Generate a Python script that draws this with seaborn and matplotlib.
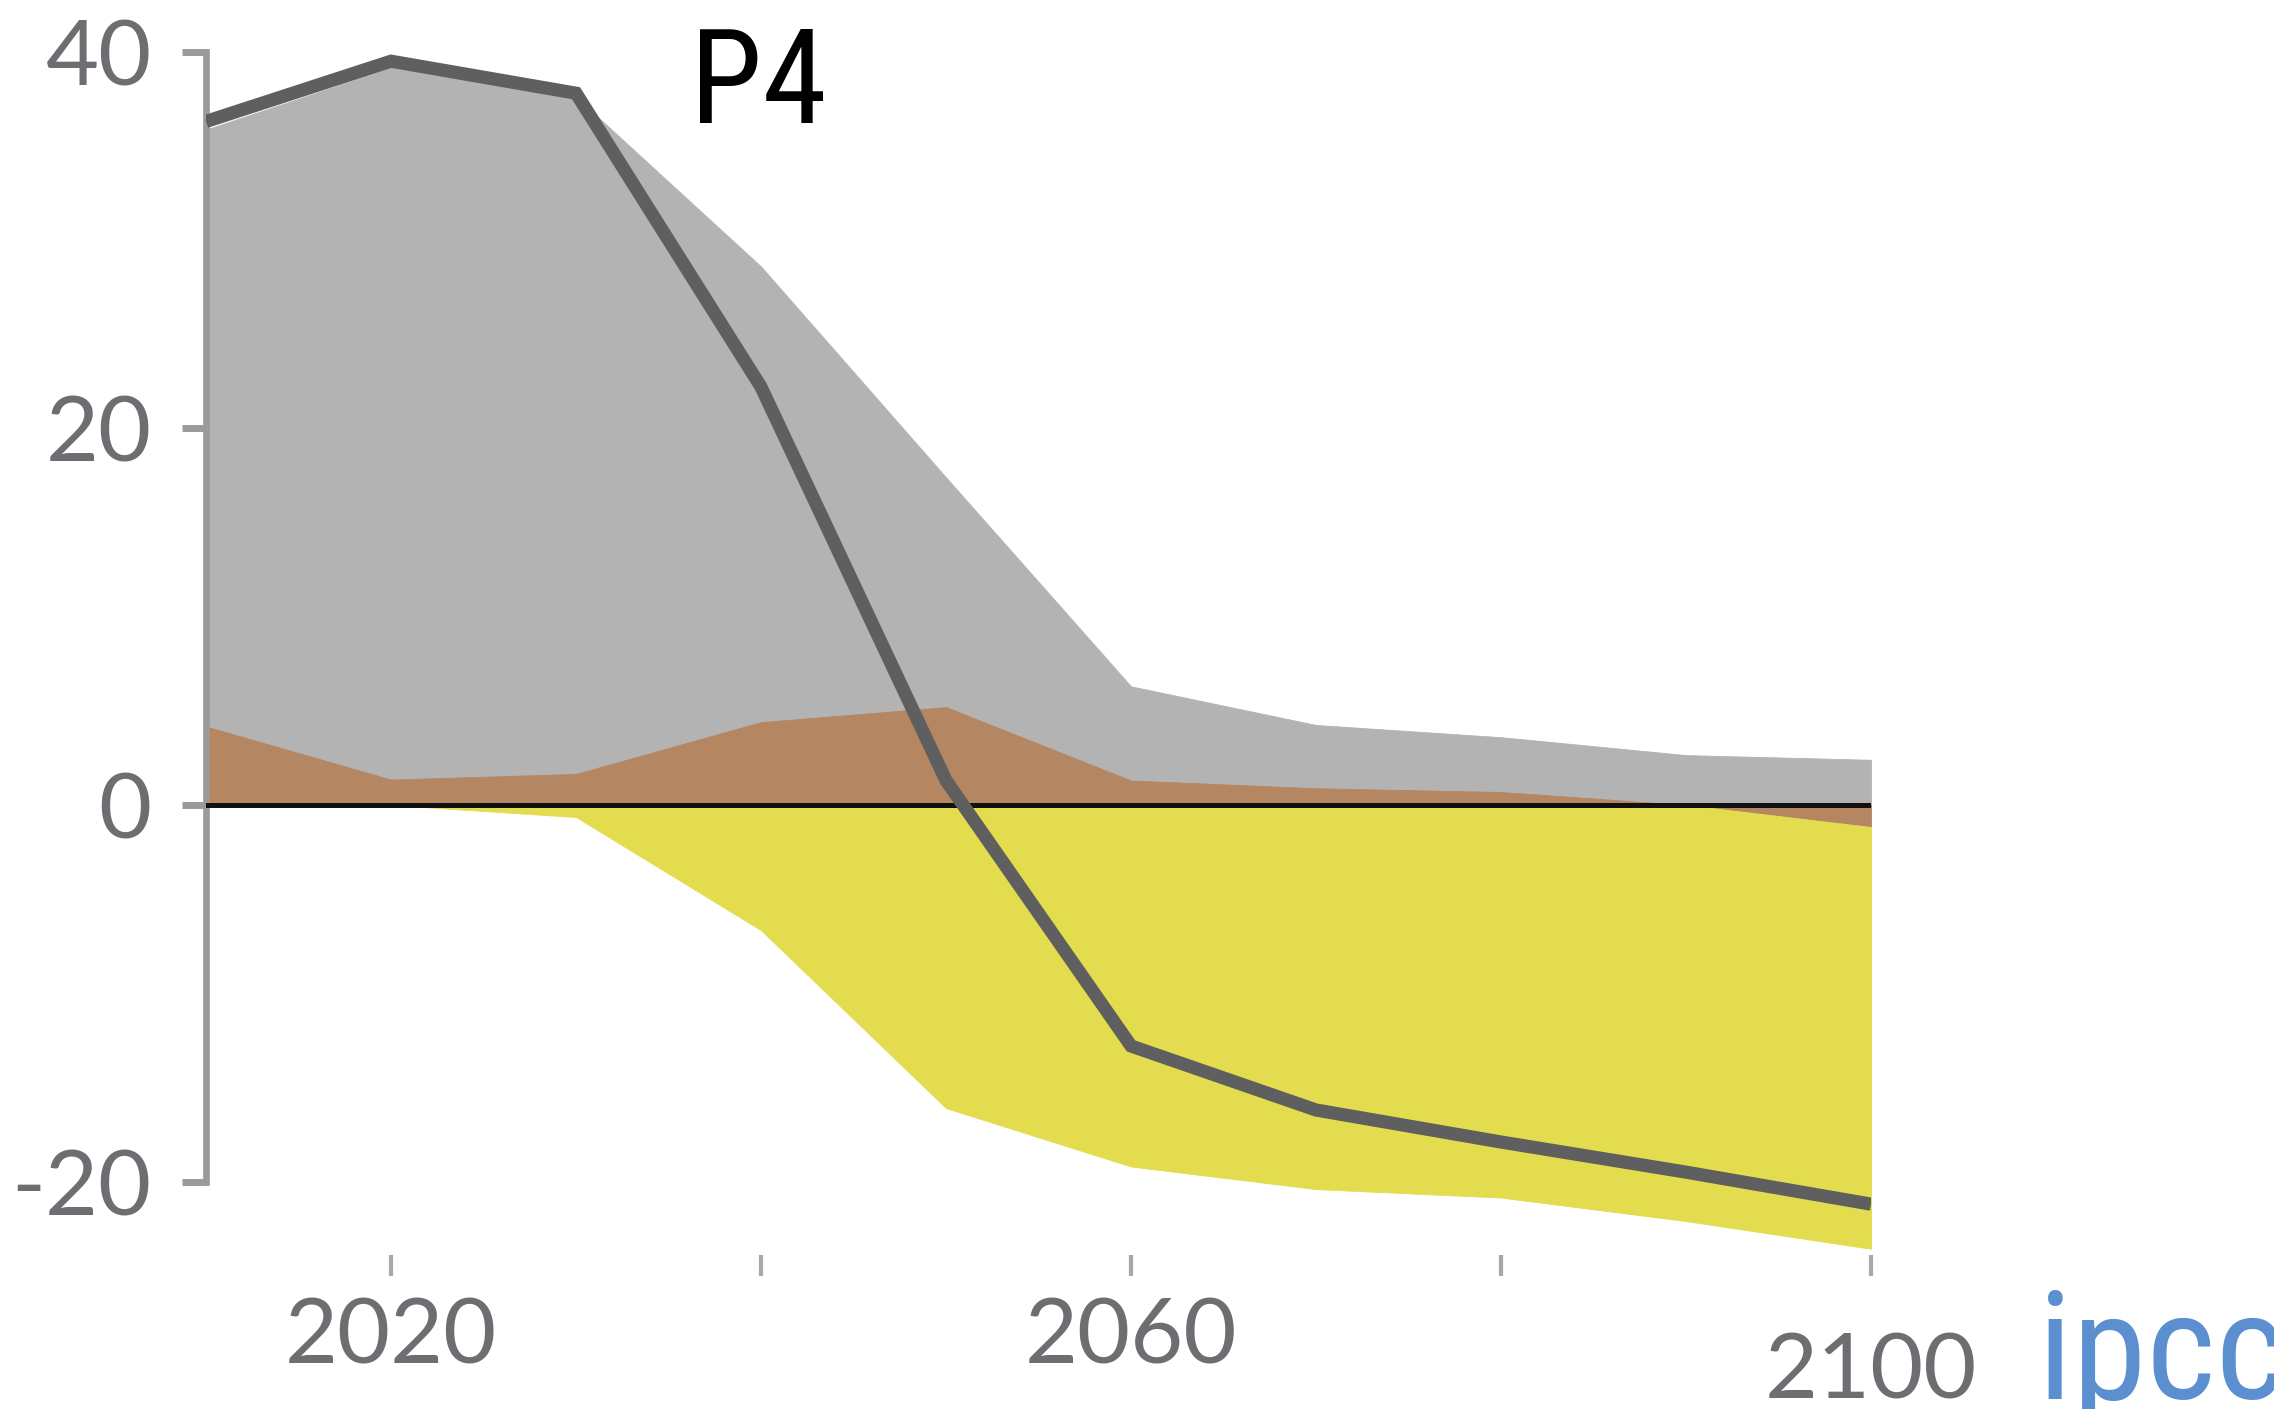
import matplotlib
matplotlib.use("Agg")
import matplotlib.pyplot as plt
from matplotlib import font_manager
import seaborn as sns
import pandas as pd

# CO2 emissions pathway P4 (GtCO2/yr), by source
years = [2010, 2020, 2030, 2040, 2050, 2060, 2070, 2080, 2090, 2100]
fossil_industry = [31.7, 37.8, 35.95, 24.2, 12.2, 5.0, 3.36, 2.91, 2.65, 2.4]
afolu = [4.17, 1.35, 1.65, 4.4, 5.2, 1.3, 0.89, 0.69, 0.0, -1.17]
beccs = [0.0, 0.0, -0.64, -6.65, -16.1, -19.2, -20.4, -20.85, -22.1, -22.4]
net_co2 = [36.3, 39.5, 37.8, 22.2, 1.3, -12.8, -16.2, -17.9, -19.5, -21.2]

y_ticks = [-20, 0, 20, 40]
y_tick_labels = ["-20", "0", "20", "40"]
x_ticks = [2020, 2040, 2060, 2080, 2100]
x_tick_labels = ["2020", "", "2060", "", "2100"]
panel_label = "P4"
logo_text = "ipcc"

GRAY_FILL = "#b3b3b3"
BROWN_FILL = "#b48662"
YELLOW_FILL = "#e3dc4e"
NET_LINE = "#5f5f5f"
AXIS_GRAY = "#9a9a9a"
LABEL_GRAY = "#6d6e71"
LOGO_BLUE = "#5b8fd0"

df = pd.DataFrame({
    "year": years,
    "fossil_industry": fossil_industry,
    "afolu": afolu,
    "beccs": beccs,
    "net": net_co2,
})

# stacked bounds: positive sources above zero, sinks below
afolu_pos = df["afolu"].clip(lower=0)
afolu_neg = df["afolu"].clip(upper=0)
ffi_top = afolu_pos + df["fossil_industry"]
beccs_bottom = afolu_neg + df["beccs"]

# pick a narrow face for the panel label and logo when one is installed
installed = {(f.name, f.stretch) for f in font_manager.fontManager.ttflist}
names = {n for n, _ in installed}
narrow_font = dict(family=["Lato", "DejaVu Sans"])
for cand in ["Liberation Sans Narrow", "Roboto Condensed", "Open Sans Condensed"]:
    if cand in names:
        narrow_font = dict(family=[cand, "DejaVu Sans"])
        break
else:
    if any(n == "DejaVu Sans" and s == "condensed" for n, s in installed):
        narrow_font = dict(family=["DejaVu Sans"], stretch="condensed")

sns.set_theme(style="white")
plt.rcParams["font.family"] = ["Lato", "DejaVu Sans"]

fig = plt.figure(figsize=(22.74, 14.09), dpi=100)
ax = fig.add_axes([0.0906, 0.1093, 0.7322, 0.8673])

fill_kw = dict(linewidth=0.6)
ax.fill_between(df["year"], afolu_pos, ffi_top, color=GRAY_FILL, edgecolor=GRAY_FILL, zorder=1, **fill_kw)
ax.fill_between(df["year"], 0, afolu_pos, color=BROWN_FILL, edgecolor=BROWN_FILL, zorder=2, **fill_kw)
ax.fill_between(df["year"], afolu_neg, 0, color=BROWN_FILL, edgecolor=BROWN_FILL, zorder=2, **fill_kw)
ax.fill_between(df["year"], beccs_bottom, afolu_neg, color=YELLOW_FILL, edgecolor=YELLOW_FILL, zorder=2, **fill_kw)

ax.axhline(0, color="#111111", linewidth=3.6, zorder=3)

sns.lineplot(data=df, x="year", y="net", ax=ax, color=NET_LINE, zorder=4)
net_line = ax.lines[-1]
net_line.set_linewidth(9.5)
net_line.set_solid_capstyle("butt")
net_line.set_solid_joinstyle("miter")

ax.set_xlim(2010, 2100)
ax.set_ylim(-23.9, 41)
ax.set_xlabel("")
ax.set_ylabel("")
ax.grid(False)

for side in ("top", "right", "bottom"):
    ax.spines[side].set_visible(False)
ax.spines["left"].set_bounds(-20, 40)
ax.spines["left"].set_color(AXIS_GRAY)
ax.spines["left"].set_linewidth(4.8)

ax.set_yticks(y_ticks)
ax.set_yticklabels(y_tick_labels)
ax.set_xticks(x_ticks)
ax.set_xticklabels(x_tick_labels)

ax.tick_params(axis="y", left=True, direction="out", length=17, width=5,
               color=AXIS_GRAY, pad=22, labelsize=66, labelcolor=LABEL_GRAY)
ax.tick_params(axis="x", bottom=True, direction="out", length=15, width=3,
               color="#a8a8a8", pad=15, labelsize=66, labelcolor=LABEL_GRAY)
ax.xaxis.get_major_ticks()[-1].set_pad(40)

fig.text(690 / 2274, 1 - 123 / 1409, panel_label, fontsize=94, color="black",
         ha="left", va="baseline", **narrow_font)

fig.text(2038 / 2274, 1 - 1399 / 1409, logo_text, fontsize=108, color=LOGO_BLUE,
         ha="left", va="baseline", **narrow_font)

fig.savefig("out.png", dpi=100)
